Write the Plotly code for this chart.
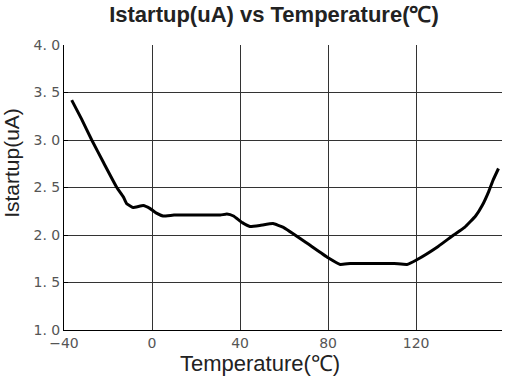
import plotly.graph_objects as go

temperature = [-36.5, -32, -27.4, -22, -16, -13, -11.5, -8.6, -4, -1, 2, 5, 10, 20, 31, 34, 37, 41,
               44.5, 49, 55, 59.7, 70, 80, 85.5, 90, 100, 110, 115.8, 120.3, 130, 137, 142, 147,
               150, 153, 155, 157.4]
istartup = [3.42, 3.22, 3.0, 2.76, 2.5, 2.4, 2.33, 2.29, 2.31, 2.28, 2.23, 2.2, 2.21, 2.21, 2.21, 2.22,
            2.2, 2.13, 2.09, 2.1, 2.12, 2.08, 1.92, 1.76, 1.69, 1.70, 1.70, 1.70, 1.69, 1.74, 1.88, 2.0,
            2.08, 2.2, 2.31, 2.46, 2.58, 2.70]

x_ticks = [-40, 0, 40, 80, 120]
x_tick_labels = ["\u221240", "0", "40", "80", "120"]
y_ticks = [1.0, 1.5, 2.0, 2.5, 3.0, 3.5, 4.0]
y_tick_labels = ["1. 0", "1. 5", "2. 0", "2. 5", "3. 0", "3. 5", "4. 0"]

fig = go.Figure()
fig.add_trace(go.Scatter(
    x=temperature, y=istartup, mode="lines",
    line=dict(color="black", width=3, shape="spline", smoothing=0.3),
    showlegend=False,
))

tick_font = dict(family="DejaVu Sans, sans-serif", size=14, color="#555")
text_font = "Liberation Sans, Arial, sans-serif"

fig.update_layout(
    width=505, height=378,
    margin=dict(l=64, r=3, t=45, b=48, autoexpand=False),
    paper_bgcolor="white", plot_bgcolor="white",
    title=dict(text="<b>Istartup(uA) vs Temperature(\u2103)</b>", x=0.5426, xanchor="center",
               y=0.962, yanchor="middle",
               font=dict(family=text_font, size=22, color="#222")),
    xaxis=dict(range=[-40, 159], tickvals=x_ticks, ticktext=x_tick_labels, automargin=False,
               showgrid=True, gridcolor="#333", gridwidth=1,
               showline=True, linecolor="black", linewidth=1,
               ticks="", tickfont=tick_font, zeroline=False),
    yaxis=dict(range=[1.0, 4.0], tickvals=y_ticks, ticktext=y_tick_labels, automargin=False,
               showgrid=True, gridcolor="#333", gridwidth=1,
               showline=True, linecolor="black", linewidth=1,
               ticks="inside", ticklen=4, tickcolor="black",
               tickfont=tick_font, zeroline=False),
)

fig.add_annotation(text="Istartup(uA)", textangle=-90, xref="paper", yref="paper",
                   x=-0.119, y=0.586, xanchor="center", yanchor="middle", showarrow=False,
                   font=dict(family=text_font, size=21, color="#222"))
fig.add_annotation(text="Temperature(\u2103)", xref="paper", yref="paper",
                   x=0.4475, y=-0.116, xanchor="center", yanchor="middle", showarrow=False,
                   font=dict(family=text_font, size=22, color="#222"))

fig.write_html("out.html", config={"displayModeBar": False},
               post_script="document.body.style.margin='0';")
